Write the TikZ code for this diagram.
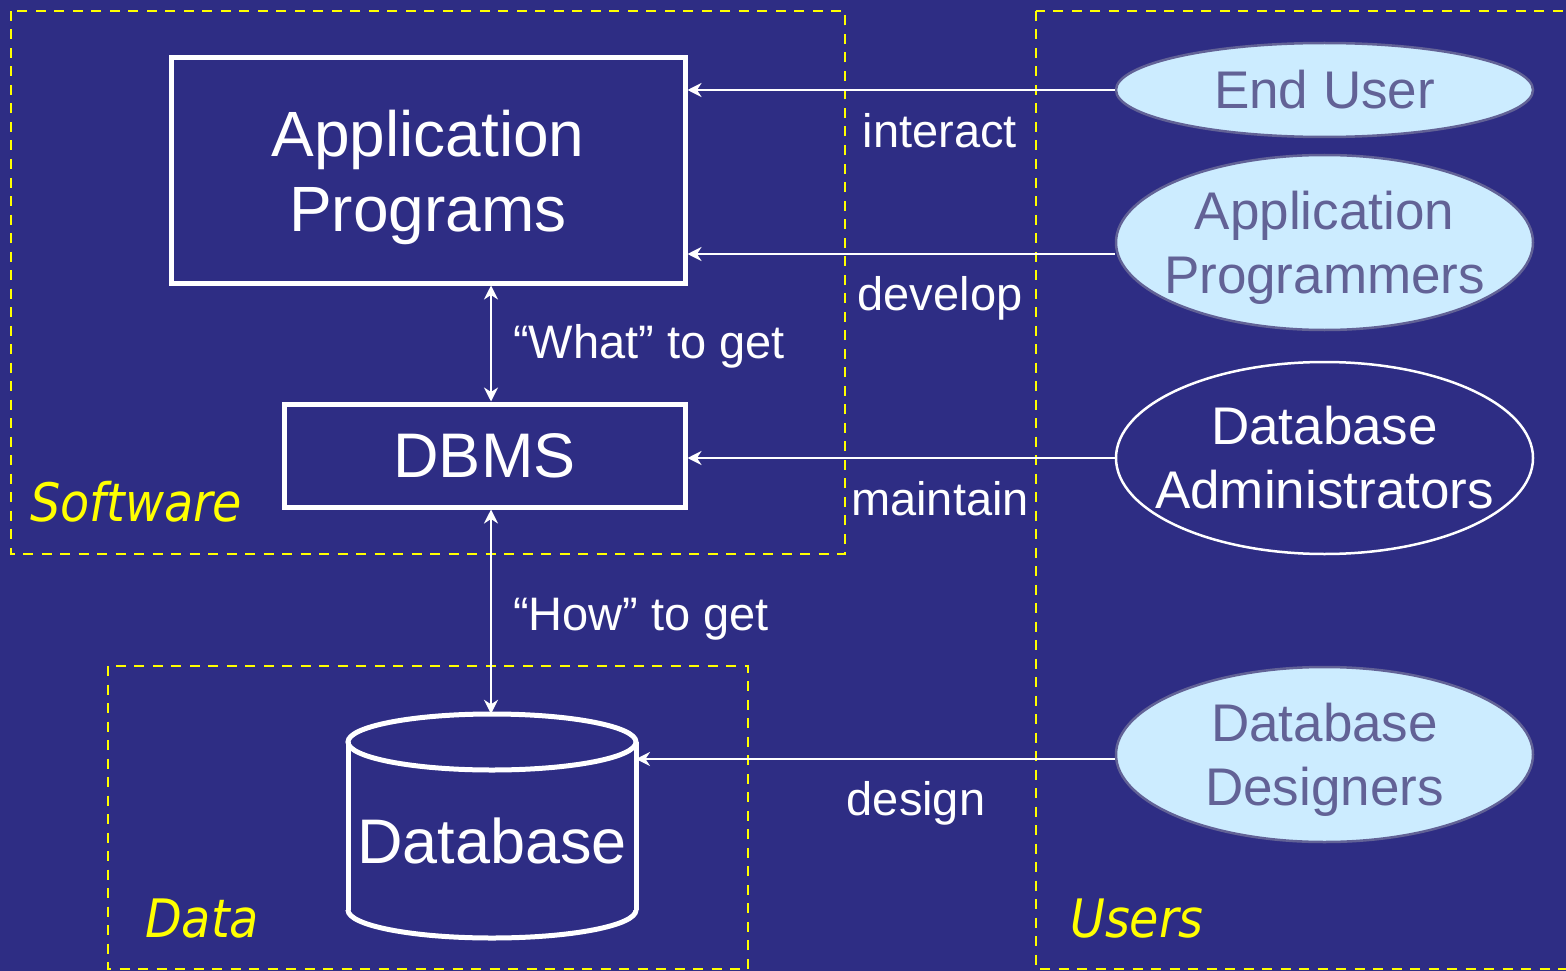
\documentclass[tikz,border=0pt]{standalone}
\usepackage{fontspec}
\setmainfont{Liberation Sans}
\newfontfamily\groupfont{DejaVu Sans Condensed Oblique}
\usetikzlibrary{arrows.meta,shapes.geometric}

\definecolor{bgblue}{RGB}{46,45,132}
\definecolor{userfill}{RGB}{204,236,255}
\definecolor{userink}{RGB}{98,98,150}
\definecolor{groupyellow}{RGB}{255,255,0}

\tikzset{
  box/.style={draw=white, line width=5pt, inner sep=0pt, text=white,
              align=center, font=\fontsize{64}{75}\selectfont},
  role/.style={ellipse, draw=userink, line width=2.5pt, fill=userfill,
               text=userink, inner xsep=-40pt, inner ysep=0pt,
               minimum width=417pt,
               align=center, font=\fontsize{53}{64}\selectfont},
  keyrole/.style={role, draw=white, fill=bgblue, text=white},
  group/.style={draw=groupyellow, line width=2.5pt, dash pattern=on 10pt off 8.5pt},
  grouplabel/.style={anchor=base west, text=groupyellow, inner sep=0pt,
                     font=\groupfont\fontsize{53}{60}\selectfont},
  verb/.style={anchor=base, text=white, inner sep=0pt,
               font=\fontsize{47}{56}\selectfont},
  link/.style={draw=white, line width=2pt,
               -{Stealth[length=14pt,width=14pt,inset=4.5pt]}},
  twoway/.style={draw=white, line width=2pt,
               {Stealth[length=14pt,width=14pt,inset=4.5pt]}-{Stealth[length=14pt,width=14pt,inset=4.5pt]}},
}

\begin{document}
\begin{tikzpicture}[x=1pt, y=-1pt]
  \useasboundingbox (0,0) rectangle (1566,971);
  \fill[bgblue] (0,0) rectangle (1566,971);
  \clip (0,0) rectangle (1566,971);

  % grouping frames
  \draw[group] (11,11) rectangle (845,554);
  \draw[group] (108,666) rectangle (748,969);
  \draw[group] (1036,11) rectangle (1590,969);
  \node[grouplabel] (software) at (30,521) {Software};
  \node[grouplabel] (data) at (145,937) {Data};
  \node[grouplabel] (users) at (1070,937) {Users};

  % software layer
  \node[box, minimum width=514pt, minimum height=225pt, text depth=0pt]
    (app) at (428,170.5) {Application\\Programs};
  \node[box, minimum width=401pt, minimum height=103pt,
        font=\fontsize{63}{75}\selectfont] (dbms) at (484.5,455.5) {DBMS};

  % database cylinder
  \node[minimum width=288pt, minimum height=224pt, inner sep=0pt] (db) at (492,826) {};
  \draw[white, line width=5pt] (492,742) ellipse [x radius=144, y radius=28];
  \draw[white, line width=5pt] (348,742) -- (348,910) (636,742) -- (636,910);
  \begin{scope}
    \clip (330,910) rectangle (660,960);
    \draw[white, line width=5pt] (492,910) ellipse [x radius=144, y radius=28];
  \end{scope}
  \node[anchor=base, text=white, inner sep=0pt, font=\fontsize{63}{75}\selectfont]
    (dbtext) at (492,863) {Database};

  % users
  \node[role, minimum height=94pt] (enduser) at (1324.5,90) {End User};
  \node[role, minimum height=175pt, text depth=0pt] (appprog) at (1324.5,242.5)
    {Application\\Programmers};
  \node[keyrole, minimum height=192pt] (dba) at (1324.5,458)
    {Database\\Administrators};
  \node[role, minimum height=175pt, text depth=0pt] (designer) at (1324.5,754.5)
    {Database\\Designers};

  % connections
  \draw[link] (enduser.west) -- (enduser.west -| app.east);
  \draw[link] ([yshift=-11.5pt]appprog.west) -- ([yshift=-11.5pt]appprog.west -| app.east);
  \draw[link] (dba.west) -- (dba.west -| dbms.east);
  \coordinate (dbside) at (636,759);
  \draw[link] (designer.west |- dbside) -- (dbside);
  \draw[twoway] (app.south -| 491,0) -- (dbms.north -| 491,0);
  \draw[twoway] (dbms.south -| 491,0) -- (db.north -| 491,0);

  % connection labels
  \node[verb] (interact) at (940,148) {interact};
  \node[verb] (develop) at (940,310) {develop};
  \node[verb] (maintain) at (940,515) {maintain};
  \node[verb] (design) at (916,815) {design};
  \node[verb] (what) at (649,358) {“What” to get};
  \node[verb] (how) at (641,630) {“How” to get};
\end{tikzpicture}
\end{document}
